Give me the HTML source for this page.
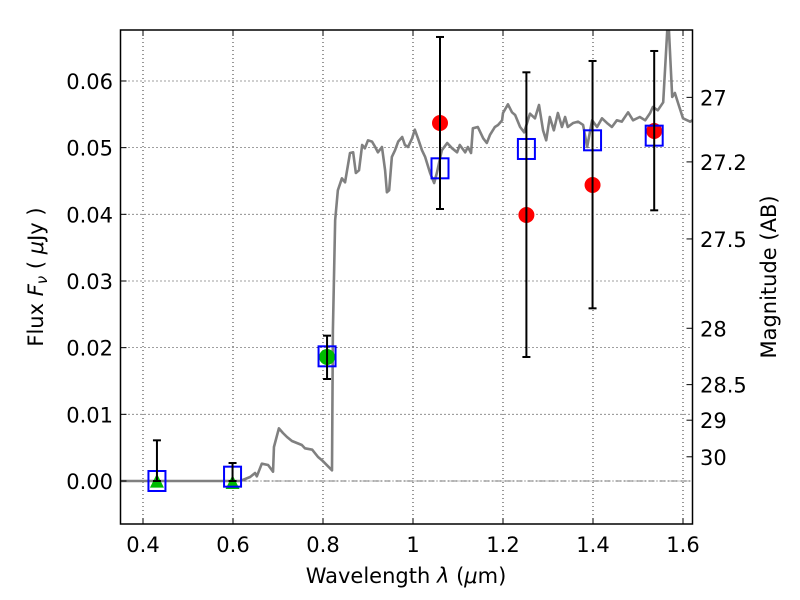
<!DOCTYPE html>
<html><head><meta charset="utf-8"><style>
html,body{margin:0;padding:0;background:#fff}
svg{display:block;font-family:"DejaVu Sans","Liberation Sans",sans-serif}
</style></head><body>
<svg id="chart" width="800" height="600">
<g id="grid"></g>
<g id="spec"></g>
<g id="marks"></g>
<g id="axes"></g>
<text x="406" y="583" font-size="21" text-anchor="middle">Wavelength  <tspan font-style="italic">λ</tspan> (<tspan font-style="italic">μ</tspan>m)</text>
<text transform="translate(43,277) rotate(-90)" font-size="21" text-anchor="middle">Flux  <tspan font-style="italic">F<tspan font-size="15" dy="4">ν</tspan></tspan><tspan dy="-4">  ( </tspan><tspan font-style="italic">μ</tspan>Jy )</text>
<text transform="translate(776,277) rotate(-90)" font-size="21" text-anchor="middle">Magnitude (AB)</text>
</svg>
<script>
const xTicks=[0.4,0.6,0.8,1.0,1.2,1.4,1.6];
const xTickLabels=["0.4","0.6","0.8","1","1.2","1.4","1.6"];
const yTicks=[0,0.01,0.02,0.03,0.04,0.05,0.06];
const yTickLabels=["0.00","0.01","0.02","0.03","0.04","0.05","0.06"];
const magTicks=[27,27.2,27.5,28,28.5,29,30];
const magTickLabels=["27","27.2","27.5","28","28.5","29","30"];
const specLam=[0.35,0.616,0.638,0.649,0.653,0.664,0.678,0.689,0.691,0.702,0.711,0.720,0.731,0.742,0.753,0.760,0.776,0.789,0.798,0.820,0.822,0.827,0.833,0.842,0.849,0.860,0.867,0.873,0.880,0.887,0.893,0.900,0.909,0.916,0.922,0.931,0.938,0.942,0.947,0.953,0.960,0.967,0.976,0.982,0.989,0.998,1.004,1.011,1.020,1.027,1.038,1.047,1.053,1.064,1.076,1.087,1.098,1.104,1.116,1.122,1.129,1.133,1.144,1.156,1.164,1.171,1.182,1.189,1.198,1.200,1.211,1.220,1.227,1.238,1.247,1.260,1.271,1.280,1.289,1.296,1.304,1.313,1.322,1.331,1.338,1.344,1.356,1.367,1.378,1.387,1.398,1.409,1.420,1.431,1.442,1.453,1.464,1.478,1.489,1.504,1.516,1.527,1.533,1.544,1.556,1.567,1.576,1.582,1.589,1.600,1.616,1.63];
const specFlux=[0,0,0.0006,0.0012,0.0007,0.0026,0.0024,0.0014,0.0051,0.0079,0.0072,0.0066,0.006,0.0057,0.0054,0.0049,0.0047,0.0036,0.0031,0.0016,0.0226,0.0391,0.0436,0.0454,0.0448,0.0492,0.0493,0.0462,0.0466,0.0504,0.0499,0.0511,0.0509,0.0501,0.0493,0.0501,0.0466,0.0433,0.0436,0.0486,0.0496,0.0509,0.0516,0.0504,0.0501,0.0514,0.0527,0.0514,0.0496,0.0486,0.0462,0.0447,0.0462,0.0496,0.0507,0.0499,0.0493,0.0504,0.0493,0.0501,0.0492,0.0529,0.0531,0.0514,0.0507,0.0519,0.0531,0.0534,0.0541,0.0552,0.0565,0.0553,0.0549,0.0531,0.0523,0.0551,0.0544,0.0564,0.0526,0.0511,0.0546,0.0526,0.0552,0.0531,0.0546,0.0531,0.0537,0.0539,0.0534,0.0501,0.0541,0.0531,0.0544,0.0537,0.0531,0.0541,0.0539,0.0553,0.0541,0.0546,0.0541,0.0552,0.0561,0.0556,0.0568,0.0700,0.0576,0.0582,0.0567,0.0544,0.0539,0.0545];
const modelLam=[0.431,0.599,0.809,1.06,1.252,1.399,1.536];
const modelFlux=[0,0.00065,0.0187,0.0469,0.0498,0.0511,0.0518];
const detLam=[0.809];
const detFlux=[0.0186];
const detLo=[0.0153];
const detHi=[0.0218];
const ulLam=[0.431,0.599];
const ulFlux=[-0.0001,-0.0003];
const ulLo=[0,0];
const ulHi=[0.0061,0.0027];
const nirLam=[1.06,1.252,1.399,1.536];
const nirFlux=[0.0537,0.0399,0.0444,0.0525];
const nirLo=[0.0408,0.0186,0.0259,0.0406];
const nirHi=[0.0666,0.0613,0.063,0.0645];

const L=120.5,R=692.5,T=30,B=524;
const X=v=>143+(v-0.4)*450;
const Y=f=>481-f*6667;
const NS="http://www.w3.org/2000/svg";
function mk(parent,tag,attrs){const e=document.createElementNS(NS,tag);for(const k in attrs)e.setAttribute(k,attrs[k]);parent.appendChild(e);return e;}
const grid=document.getElementById('grid'),axes=document.getElementById('axes'),spec=document.getElementById('spec'),marks=document.getElementById('marks');

xTicks.forEach((v,i)=>{
  const g=mk(grid,'line',{x1:X(v),x2:X(v),y1:T,y2:B,stroke:'#000','stroke-width':0.8,'stroke-dasharray':'1,3'});
  
  
  mk(axes,'line',{x1:X(v),x2:X(v),y1:B,y2:B-6,stroke:'#000'});
  mk(axes,'line',{x1:X(v),x2:X(v),y1:T,y2:T+6,stroke:'#000'});
  const t=mk(axes,'text',{x:X(v),y:B+28,'font-size':21,'text-anchor':'middle'});
  t.textContent=xTickLabels[i];
  
  
});
yTicks.forEach((v,i)=>{
  const g=mk(grid,'line',{x1:L,x2:R,y1:Y(v),y2:Y(v),stroke:'#000','stroke-width':0.8,'stroke-dasharray':'1,3'});
  
  
  mk(axes,'line',{x1:L,x2:L+6,y1:Y(v),y2:Y(v),stroke:'#000'});
  const t=mk(axes,'text',{x:113,y:Y(v)+8,'font-size':21,'text-anchor':'end'});
  t.textContent=yTickLabels[i];
  
  
});
magTicks.forEach((m,i)=>{
  const f=Math.pow(10,(23.9-m)/2.5);
  mk(axes,'line',{x1:R,x2:R-6,y1:Y(f),y2:Y(f),stroke:'#000'});
  const t=mk(axes,'text',{x:700,y:Y(f)+8,'font-size':21});
  t.textContent=magTickLabels[i];
  
  
});
const zl=mk(grid,'line',{x1:L,x2:R,y1:Y(0),y2:Y(0),stroke:'#555','stroke-width':0.8,'stroke-dasharray':'6,2,1,2'});



mk(spec,'clipPath',{id:'clip'}).appendChild(document.createElementNS(NS,'rect'));
const cr=spec.querySelector('rect');cr.setAttribute('x',L);cr.setAttribute('y',T);cr.setAttribute('width',R-L);cr.setAttribute('height',B-T);
const sp=mk(spec,'polyline',{points:specLam.map((l,i)=>X(l)+','+Y(specFlux[i])).join(' '),fill:'none',stroke:'#808080','stroke-width':2.6,'stroke-linejoin':'round','clip-path':'url(#clip)'});



function errbar(lam,lo,hi){
  const g=mk(marks,'g',{stroke:'#000','stroke-width':2});
  
  
  mk(g,'line',{x1:X(lam),x2:X(lam),y1:Y(lo),y2:Y(hi)});
  mk(g,'line',{x1:X(lam)-4,x2:X(lam)+4,y1:Y(lo),y2:Y(lo)});
  mk(g,'line',{x1:X(lam)-4,x2:X(lam)+4,y1:Y(hi),y2:Y(hi)});
}
ulLam.forEach((l,i)=>{
  const x=X(l),y=Y(ulFlux[i]);
  const p=mk(marks,'polygon',{points:`${x},${y-8} ${x-7},${y+6} ${x+7},${y+6}`,fill:'#00bb00'});
  
  
});
detLam.forEach((l,i)=>{
  const c=mk(marks,'circle',{cx:X(l),cy:Y(detFlux[i]),r:8,fill:'#00bb00'});
  
  
});
nirLam.forEach((l,i)=>{
  const c=mk(marks,'circle',{cx:X(l),cy:Y(nirFlux[i]),r:8,fill:'#ff0000'});
  
  
});
modelLam.forEach((l,i)=>{
  const r=mk(marks,'rect',{x:X(l)-8.5,y:Y(modelFlux[i])-10,width:17,height:20,fill:'none',stroke:'#0000ff','stroke-width':2});
  
  
});
ulLam.forEach((l,i)=>errbar(l,ulLo[i],ulHi[i]));
detLam.forEach((l,i)=>errbar(l,detLo[i],detHi[i]));
nirLam.forEach((l,i)=>errbar(l,nirLo[i],nirHi[i]));

const fr=mk(axes,'rect',{x:L,y:T,width:R-L,height:B-T,fill:'none',stroke:'#000','stroke-width':1.5});


</script>
</body></html>
